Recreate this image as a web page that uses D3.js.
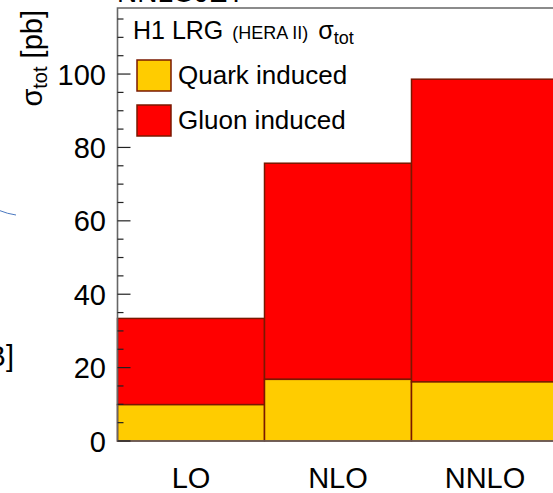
<!DOCTYPE html>
<html><head><meta charset="utf-8">
<script src="https://cdn.jsdelivr.net/npm/d3@7"></script>
<style>
body{margin:0;background:#fff;}
svg{display:block;font-family:"Liberation Sans",Arial,sans-serif;}
</style></head>
<body>
<svg id="c" width="553" height="493"></svg>
<script>
const categories = ["LO", "NLO", "NNLO"];
const quarkValues = [9.9, 16.8, 16.1];
const totalValues = [33.4, 75.7, 98.6];
const majorTicks = [0, 20, 40, 60, 80, 100];
const seriesNames = ["Quark induced", "Gluon induced"];

const svg = d3.select("#c");
svg.append("rect").attr("width",553).attr("height",493).attr("fill","#fff");

const y = d3.scaleLinear().domain([0, 118]).range([441, 8]);
const x = d3.scaleBand().domain(categories).range([117.5, 558.5]).padding(0);

const fillQ = "#ffcc00", fillG = "#ff0000", edge = "#7a1800";

// stray pieces of neighbouring panels
svg.append("path").attr("d","M-2,210 Q8,214 16,215").attr("fill","none").attr("stroke","#4a78c0").attr("stroke-width",1);
svg.append("text").attr("x",14).attr("y",366).attr("text-anchor","end").attr("font-size",29).text("B]");
svg.append("text").attr("x",117).attr("y",2).attr("font-size",28).text("NNLOJET");

// bars
const g = svg.append("g");
categories.forEach((c,i)=>{
  g.append("rect").attr("x",x(c)).attr("width",x.bandwidth())
    .attr("y",y(totalValues[i])).attr("height",y(quarkValues[i])-y(totalValues[i]))
    .attr("fill",fillG).attr("stroke",edge).attr("stroke-width",1.5);
  g.append("rect").attr("x",x(c)).attr("width",x.bandwidth())
    .attr("y",y(quarkValues[i])).attr("height",y(0)-y(quarkValues[i]))
    .attr("fill",fillQ).attr("stroke",edge).attr("stroke-width",1.5);
});

// frame
svg.append("path").attr("d",`M560,${y(118)}H117.5V${y(0)}H560`).attr("fill","none").attr("stroke","#666").attr("stroke-width",1.6);

// ticks
const minor = d3.range(0, 118, 5);
svg.append("g").selectAll("line").data(minor).join("line")
  .attr("x1",117.5).attr("x2",d=>117.5+(d%20===0?13:6))
  .attr("y1",d=>y(d)).attr("y2",d=>y(d))
  .attr("stroke","#222").attr("stroke-width",1.2);

// y tick labels
svg.append("g").selectAll("text").data(majorTicks).join("text")
  .attr("x",106).attr("y",d=>y(d)+10.5).attr("text-anchor","end")
  .attr("font-size",29).attr("fill","#000").text(d=>d);

// x labels
svg.append("g").selectAll("text").data(categories).join("text")
  .attr("x",d=>x(d)+x.bandwidth()/2).attr("y",488).attr("text-anchor","middle")
  .attr("font-size",29).attr("fill","#000").text(d=>d);

// y title
const yt = svg.append("text").attr("transform","translate(42,10) rotate(-90)")
  .attr("text-anchor","end").attr("font-size",29).attr("fill","#000");
yt.append("tspan").text("σ");
yt.append("tspan").attr("font-size",20).attr("dy",5).text("tot");
yt.append("tspan").attr("dy",-5).text(" [pb]");

// legend header
const lh = svg.append("text").attr("x",133).attr("y",38.5).attr("font-size",25).attr("fill","#000");
lh.append("tspan").text("H1 LRG ");
lh.append("tspan").attr("font-size",18).attr("dx",2).text("(HERA II)");
lh.append("tspan").attr("dx",10).text("σ");
lh.append("tspan").attr("font-size",18).attr("dy",5).text("tot");

// legend entries
const fills = [fillQ, fillG];
seriesNames.forEach((n,i)=>{
  const yy = 60 + i*45;
  svg.append("rect").attr("x",137).attr("y",yy).attr("width",34).attr("height",31)
    .attr("fill",fills[i]).attr("stroke",edge).attr("stroke-width",1.5);
  svg.append("text").attr("x",178).attr("y",yy+24).attr("font-size",26).attr("fill","#000").text(n);
});
</script>
</body></html>
